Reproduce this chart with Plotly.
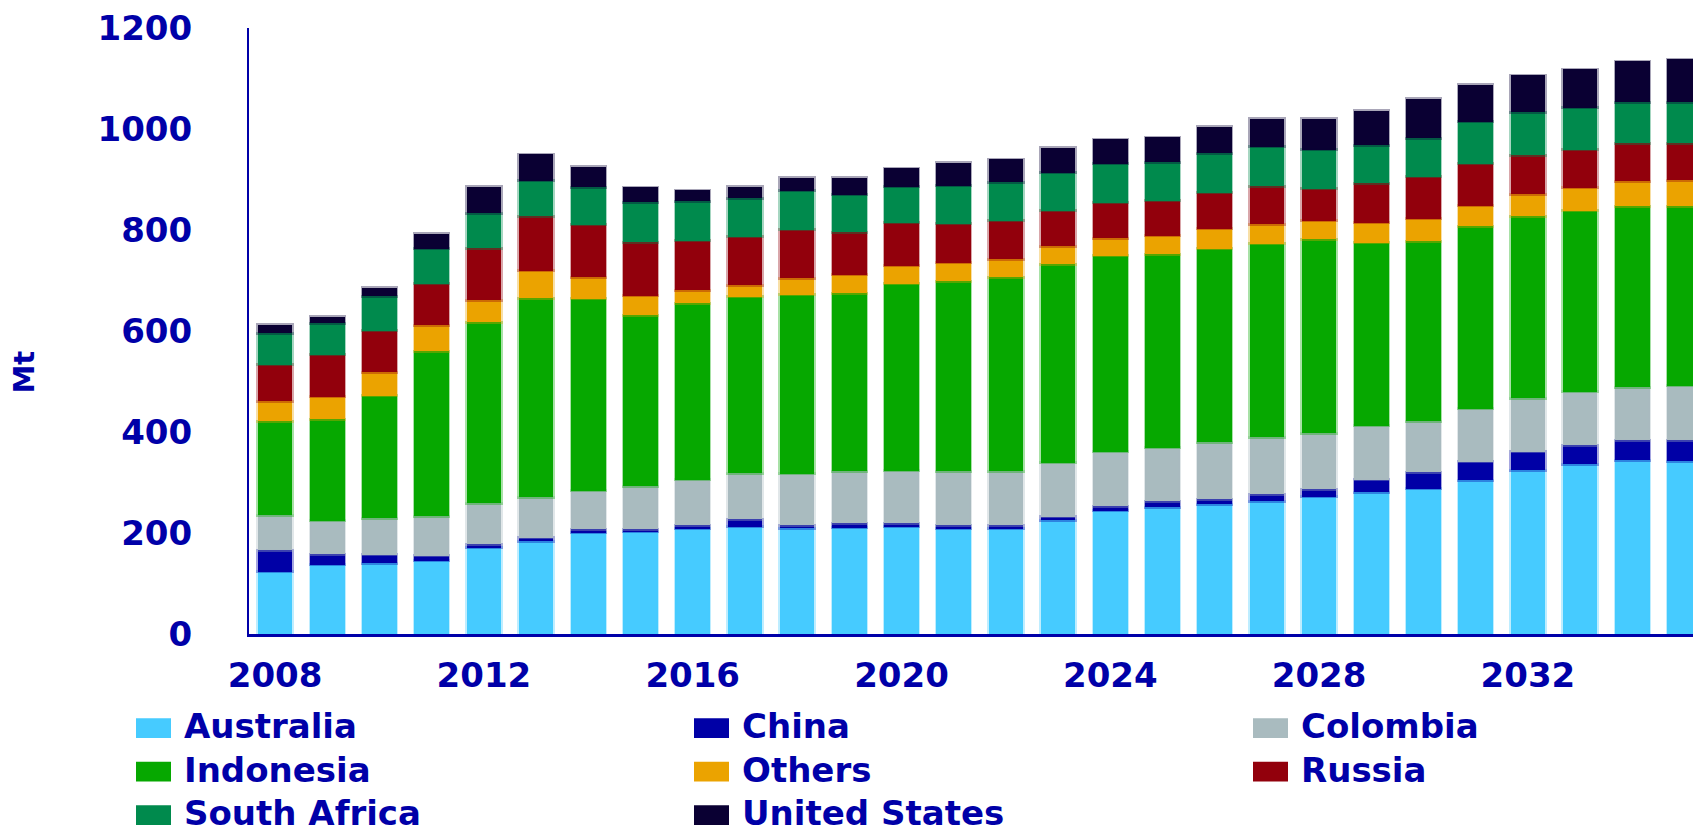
"""Stacked bar chart of coal exports by country, 2008-2035."""

import plotly.graph_objects as go

years = list(range(2008, 2036))

australia = [123, 137, 140, 145, 171, 184, 201, 202, 208, 212, 209, 210, 212, 208,
             208, 225, 244, 251, 257, 263, 272, 281, 288, 304, 324, 336, 344, 342]
china = [43, 21, 17, 10, 7, 7, 6, 5, 7, 15, 6, 9, 7, 7,
         7, 7, 9, 12, 10, 14, 15, 24, 32, 37, 37, 38, 40, 42]
colombia = [69, 66, 72, 78, 81, 80, 77, 86, 90, 91, 102, 103, 104, 107,
            107, 107, 108, 106, 113, 113, 111, 107, 101, 105, 106, 106, 105, 108]
indonesia = [186, 201, 243, 327, 358, 394, 380, 338, 350, 350, 355, 353, 371, 377,
             384, 393, 388, 383, 383, 383, 384, 363, 357, 361, 360, 358, 358, 355]
others = [40, 45, 46, 51, 44, 54, 42, 39, 26, 23, 32, 36, 35, 36,
          36, 36, 35, 37, 39, 38, 36, 39, 44, 41, 44, 46, 50, 52]
russia = [72, 83, 83, 83, 103, 108, 104, 106, 98, 96, 97, 85, 85, 77,
          76, 70, 70, 69, 72, 76, 64, 79, 83, 83, 77, 75, 75, 73]
south_africa = [63, 62, 68, 69, 69, 71, 75, 79, 78, 76, 77, 74, 72, 76,
                77, 75, 77, 76, 78, 78, 77, 75, 77, 83, 85, 83, 81, 81]
united_states = [16, 13, 17, 30, 53, 52, 40, 30, 22, 23, 25, 33, 36, 45,
                 45, 50, 49, 50, 52, 55, 61, 68, 78, 74, 73, 76, 81, 85]

series_names = ["Australia", "China", "Colombia", "Indonesia",
                "Others", "Russia", "South Africa", "United States"]
series_values = [australia, china, colombia, indonesia,
                 others, russia, south_africa, united_states]
series_colors = ["#46CBFF", "#0000A6", "#A9BBBF", "#06A800",
                 "#EBA300", "#92000C", "#008A4D", "#0A0033"]

y_ticks = [0, 200, 400, 600, 800, 1000, 1200]
x_ticks = [2008, 2012, 2016, 2020, 2024, 2028, 2032]

BLUE = "#0000A8"
FONT = "DejaVu Sans"

# the page body has an 8px margin, so the figure is drawn 8px in from the corner
OFF = 8
W, H = 1701 - OFF, 834 - OFF
ML, MT, MB = 249 - OFF, 22 - OFF, 200
PW, PH = W - ML, H - MT - MB


def px_x(x):
    # page pixel -> paper coordinate
    return (x - OFF - ML) / PW


def px_y(y):
    return (H - MB - (y - OFF)) / PH


def fade(hex_color, alpha):
    r, g, b = (int(hex_color[i:i + 2], 16) for i in (1, 3, 5))
    return f"rgba({r},{g},{b},{alpha})"


fig = go.Figure()
for name, vals, color in zip(series_names, series_values, series_colors):
    fig.add_trace(go.Bar(
        x=years, y=vals, name=name, width=0.66,
        marker=dict(color=color, line=dict(color=fade(color, 0.35), width=3)),
        showlegend=False,
    ))

# hand-built legend so the swatches can be wide like the original
for i, (name, color) in enumerate(zip(series_names, series_colors)):
    col, row = i % 3, i // 3
    x0 = [136, 694, 1253][col]
    yc = 729 + row * 44
    fig.add_shape(type="rect", xref="paper", yref="paper",
                  x0=px_x(x0), x1=px_x(x0 + 35), y0=px_y(yc + 10), y1=px_y(yc - 10),
                  fillcolor=color, line_width=0)
    fig.add_annotation(xref="paper", yref="paper", x=px_x(x0 + 46), y=px_y(yc - 2),
                       text=name, showarrow=False, xanchor="left", yanchor="middle",
                       font=dict(family=FONT, size=34, color=BLUE, weight="bold"))

fig.add_annotation(xref="paper", yref="paper", x=px_x(24), y=px_y(369),
                   text="Mt", textangle=-90, showarrow=False,
                   xanchor="center", yanchor="middle",
                   font=dict(family=FONT, size=29, color=BLUE, weight="bold"))

fig.update_layout(
    barmode="stack",
    width=W, height=H,
    margin=dict(l=ML, r=0, t=MT, b=MB),
    paper_bgcolor="white", plot_bgcolor="white",
    font=dict(family=FONT, color=BLUE, weight="bold"),
)
fig.update_xaxes(
    range=[2007.5, 2007.5 + PW / 52.2], tickvals=x_ticks,
    showgrid=False, zeroline=False, showline=True, linecolor=BLUE, linewidth=3,
    ticks="", ticklabelstandoff=9, ticklabeloverflow="allow",
    tickfont=dict(family=FONT, size=34, color=BLUE, weight="bold"),
)
fig.update_yaxes(
    range=[0, 1200], tickvals=y_ticks,
    showgrid=False, zeroline=False, showline=True, linecolor=BLUE, linewidth=2,
    ticks="", ticklabelstandoff=48, ticklabeloverflow="allow",
    tickfont=dict(family=FONT, size=34, color=BLUE, weight="bold"),
)

fig.write_html("out.html")
